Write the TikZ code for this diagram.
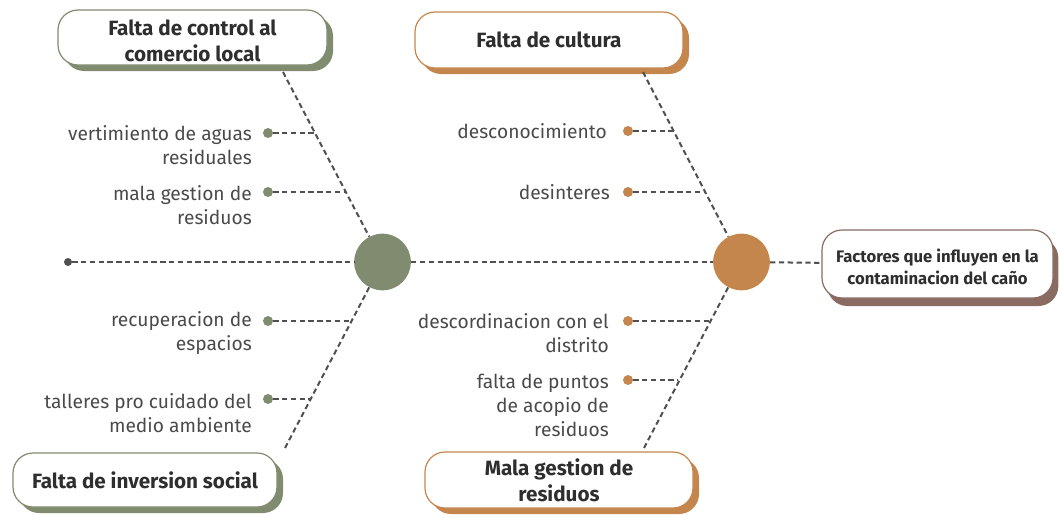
\documentclass[tikz,border=0pt]{standalone}
\usepackage{fontspec}
\setmainfont{Fira Sans}
\usetikzlibrary{shadows}
\definecolor{gcol}{HTML}{808B6F}
\definecolor{ocol}{HTML}{C4864D}
\definecolor{bcol}{HTML}{8A6B62}
\definecolor{lcol}{HTML}{505050}
\definecolor{tcol}{HTML}{4A4A4A}
\definecolor{hcol}{HTML}{2E2E2E}
\newcommand{\downstrut}{\rule{0pt}{17pt}}
\begin{document}
\begin{tikzpicture}[x=0.75pt,y=-0.75pt,
  bone/.style={draw=lcol, line width=1.5pt, dash pattern=on 4pt off 2.6pt},
  catbox/.style={rounded corners=15pt, fill=white, line width=0.9pt, align=center,
    font=\bfseries\fontsize{15.5}{19.5}\selectfont, text=hcol, inner sep=0pt},
  gshadow/.style={drop shadow={shadow xshift=4.5pt, shadow yshift=-4.5pt, fill=gcol, opacity=1}},
  oshadow/.style={drop shadow={shadow xshift=4.5pt, shadow yshift=-4.5pt, fill=ocol, opacity=1}},
  bshadow/.style={drop shadow={shadow xshift=4pt, shadow yshift=-6pt, fill=bcol, opacity=1}},
  lab/.style={anchor=east, align=right, font=\fontsize{14.4}{18}\selectfont, text=tcol, inner sep=0pt},
  sdot/.style={circle, inner sep=0pt, minimum size=7.5pt},
]
\useasboundingbox (0,0) rectangle (1060,514);

% boxes
\node[catbox, gshadow, draw=gcol, minimum width=201.75pt, minimum height=41.25pt] (tl) at (192.5,37.5) {\downstrut Falta de control al\\comercio local};
\node[catbox, oshadow, draw=ocol, minimum width=201pt, minimum height=42pt] (tc) at (549,40) {Falta de cultura};
\node[catbox, gshadow, draw=gcol, minimum width=198pt, minimum height=40.5pt] (bl) at (145,480) {Falta de inversion social};
\node[catbox, oshadow, draw=ocol, minimum width=201pt, minimum height=42pt] (bc) at (559,480) {Mala gestion de\\residuos};
\node[catbox, bshadow, draw=bcol, minimum width=173.25pt, minimum height=51pt,
  font=\bfseries\fontsize{12.5}{16.5}\selectfont] (head) at (937.5,264) {\rule{0pt}{15pt}Factores que influyen en la\\contaminacion del caño};

% circles
\node[circle, fill=gcol, inner sep=0pt, minimum size=42.5pt] (gc) at (382.5,262) {};
\node[circle, fill=ocol, inner sep=0pt, minimum size=42.5pt] (oc) at (741.5,262) {};
\node[circle, fill=lcol, inner sep=0pt, minimum size=6pt] (ld) at (68,262) {};

% spine
\draw[bone] (ld) -- (gc);
\draw[bone] (gc) -- (oc);
\draw[bone] (oc) -- (head);

% bone ends
\coordinate (tlb) at (283,72);
\coordinate (tcb) at (643,72);
\coordinate (blb) at (285,448);
\coordinate (bcb) at (644,448);
\draw[bone] (tlb) -- (gc);
\draw[bone] (tcb) -- (oc);
\draw[bone] (blb) -- (gc);
\draw[bone] (bcb) -- (oc);

% junctions
\coordinate (j1) at (314,133);
\coordinate (j2) at (344,192);
\coordinate (j3) at (673.5,131);
\coordinate (j4) at (704,192);
\coordinate (j5) at (350,321);
\coordinate (j6) at (310,399);
\coordinate (j7) at (709,321);
\coordinate (j8) at (678,380);

% sub dots
\node[sdot, fill=gcol] (d1) at (268,133) {};
\node[sdot, fill=gcol] (d2) at (268,192) {};
\node[sdot, fill=ocol] (d3) at (628,131) {};
\node[sdot, fill=ocol] (d4) at (628,192) {};
\node[sdot, fill=gcol] (d5) at (268,321) {};
\node[sdot, fill=gcol] (d6) at (268,399) {};
\node[sdot, fill=ocol] (d7) at (628,321) {};
\node[sdot, fill=ocol] (d8) at (628,380) {};

\draw[bone] (d1) -- (j1);
\draw[bone] (d2) -- (j2);
\draw[bone] (d3) -- (j3);
\draw[bone] (d4) -- (j4);
\draw[bone] (d5) -- (j5);
\draw[bone] (d6) -- (j6);
\draw[bone] (d7) -- (j7);
\draw[bone] (d8) -- (j8);

% labels
\node[lab] (l1) at (252,145) {vertimiento de aguas\\residuales};
\node[lab] (l2) at (252,205) {mala gestion de\\residuos};
\node[lab] (l3) at (607,131) {desconocimiento};
\node[lab] (l4) at (610,192) {desinteres};
\node[lab] (l5) at (252,333) {recuperacion de\\espacios};
\node[lab] (l6) at (252,413) {talleres pro cuidado del\\medio ambiente};
\node[lab] (l7) at (609,333) {descordinacion con el\\distrito};
\node[lab] (l8) at (609,405) {falta de puntos\\de acopio de\\residuos};
\end{tikzpicture}
\end{document}
